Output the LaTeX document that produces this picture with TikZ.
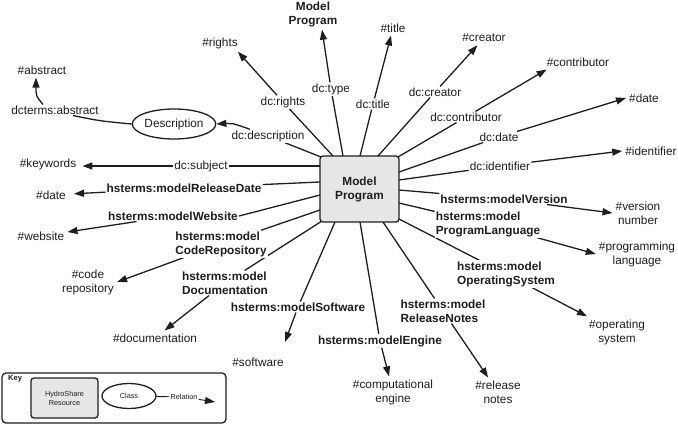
\documentclass[tikz,border=0pt]{standalone}
\usepackage{fontspec}
\setmainfont{Liberation Sans}
\usetikzlibrary{arrows.meta,shapes.geometric,backgrounds}
\definecolor{boxgray}{HTML}{E6E6E6}
\definecolor{ink}{HTML}{1E1E1E}
\newcommand\myrf{\fontsize{11.8}{14}\selectfont}
\newcommand\mybf{\fontsize{11.8}{14}\selectfont\bfseries}
\newcommand\mysf{\fontsize{7.3}{9}\selectfont}
\begin{document}
\begin{tikzpicture}[x=1pt,y=-1pt,
  every node/.style={text=ink},
  rel/.style={draw=ink, line width=1.3pt, -{Triangle[length=10pt,width=7pt]}},
  plain/.style={draw=ink, line width=1.3pt},
  lab/.style={fill=white, inner sep=1pt, font=\myrf},
  blab/.style={fill=white, inner sep=1pt, font=\mybf, align=left},
  tgt/.style={inner sep=3pt, font=\myrf, align=center},
]
\useasboundingbox (0,0) rectangle (678,426);

% central resource
\node[draw=ink, fill=boxgray, rounded corners=3pt, line width=1.3pt, minimum width=79pt,
      minimum height=66pt, inner sep=0pt, font=\mybf, align=center] (box) at (359.5,189) {Model\\Program};

% targets
\node[tgt, font=\mybf] (tType) at (313,14) {Model\\Program};
\node[tgt] (tRights) at (220,43) {\#rights};
\node[tgt] (tTitle) at (393,28) {\#title};
\node[tgt] (tCreator) at (484,38) {\#creator};
\node[tgt] (tContrib) at (578,62) {\#contributor};
\node[tgt] (tDateR) at (644,98) {\#date};
\node[tgt] (tIdent) at (651,151) {\#identifier};
\node[tgt] (tVersion) at (638,213) {\#version\\number};
\node[tgt] (tProgLang) at (637,254) {\#programming\\language};
\node[tgt] (tOS) at (617,332) {\#operating\\system};
\node[tgt] (tRelNotes) at (498,392) {\#release\\notes};
\node[tgt] (tEngine) at (393,392) {\#computational\\engine};
\node[tgt] (tSoftware) at (258,362) {\#software};
\node[tgt] (tDoc) at (155,338) {\#documentation};
\node[tgt] (tCode) at (88,282) {\#code\\repository};
\node[tgt] (tWebsite) at (41,236) {\#website};
\node[tgt, inner xsep=8pt] (tDateL) at (51,195) {\#date};
\node[tgt, inner xsep=6pt] (tKeywords) at (48,164) {\#keywords};
\node[tgt] (tAbstract) at (42,70) {\#abstract};
\node[draw=ink, ellipse, line width=1.3pt, minimum width=79pt, minimum height=30pt,
      inner sep=0pt, font=\myrf] (desc) at (174,124) {Description};

% relation labels
\node[lab] (lType) at (331,89) {dc:type};
\node[lab] (lRights) at (283,102) {dc:rights};
\node[lab] (lTitle) at (373,104) {dc:title};
\node[lab] (lCreator) at (435,92) {dc:creator};
\node[lab] (lContrib) at (466,117) {dc:contributor};
\node[lab] (lDate) at (499,137) {dc:date};
\node[lab] (lIdent) at (500,166) {dc:identifier};
\node[blab] (lVersion) at (504,199) {hsterms:modelVersion};
\node[blab] (lProgLang) at (488,224) {hsterms:model\\ProgramLanguage};
\node[blab] (lOS) at (506,274) {hsterms:model\\OperatingSystem};
\node[blab] (lRelNotes) at (443,311) {hsterms:model\\ReleaseNotes};
\node[blab] (lEngine) at (380,341) {hsterms:modelEngine};
\node[blab] (lSoftware) at (298,307) {hsterms:modelSoftware};
\node[blab] (lDoc) at (225,283) {hsterms:model\\Documentation};
\node[blab] (lCode) at (221,244) {hsterms:model\\CodeRepository};
\node[blab] (lWebsite) at (173,216) {hsterms:modelWebsite};
\node[blab] (lRelDate) at (184,188) {hsterms:modelReleaseDate};
\node[lab] (lSubject) at (201,166) {dc:subject};
\node[lab] (lDesc) at (268,136) {dc:description};
\node[lab] (lAbstract) at (55,110) {dcterms:abstract};

% start points on the resource box
\coordinate (sType) at (343,156);
\coordinate (sRights) at (333,156);
\coordinate (sTitle) at (360,156);
\coordinate (sCreator) at (378,156);
\coordinate (sContrib) at (398,157);
\coordinate (sDesc) at (321,157);
\coordinate (sSubject) at (320,166);
\coordinate (sRelDate) at (320,182);
\coordinate (sWebsite) at (320,195);
\coordinate (sCode) at (320,210);
\coordinate (sDoc) at (322,221);
\coordinate (sSoftware) at (335,222);
\coordinate (sEngine) at (360,222);
\coordinate (sRelNotes) at (383,222);
\coordinate (sOS) at (399,219);
\coordinate (sProgLang) at (399,203);
\coordinate (sVersion) at (399,190);
\coordinate (sIdent) at (399,180);
\coordinate (sDate) at (399,172);
\coordinate (softTip) at (285,342);

% key
\node[draw=ink, line width=1.3pt, rounded corners=4pt, minimum width=224pt, minimum height=50pt] (key) at (114,398) {};
\node[font=\fontsize{7.5}{9}\selectfont\bfseries, anchor=north west, inner sep=0pt] (keyT) at (8,375) {Key};
\node[draw=ink, fill=boxgray, rounded corners=3pt, line width=1.3pt, minimum width=67pt, minimum height=40pt,
      font=\mysf, align=center] (kRes) at (64.5,398) {HydroShare\\Resource};
\node[draw=ink, ellipse, line width=1.3pt, minimum width=54pt, minimum height=25pt, inner sep=0pt,
      font=\mysf] (kClass) at (129,396) {Class};
\node[lab, font=\mysf] (kRel) at (184,397) {Relation};
\coordinate (kTip) at (215,402);

\begin{pgfonlayer}{background}
\draw[rel] (sType) -- (lType) -- ([xshift=9pt]tType.south);
\draw[rel] (sRights) -- (lRights) -- ([xshift=-3pt]tRights.south east);
\draw[rel] (sTitle) -- (lTitle) -- (tTitle);
\draw[rel] (sCreator) -- (lCreator) -- (tCreator);
\draw[rel] (sContrib) -- (lContrib) -- ([xshift=3pt]tContrib.south west);
\draw[rel] (sDate) -- (lDate) -- (tDateR.west);
\draw[rel] (sIdent) -- (lIdent) -- (tIdent.west);
\draw[rel] (sVersion) -- (lVersion) -- (tVersion.west);
\draw[rel] (sProgLang) -- (lProgLang) -- (tProgLang.west);
\draw[rel] (sOS) -- (lOS) -- (tOS);
\draw[rel] (sRelNotes) -- (lRelNotes) -- (tRelNotes);
\draw[rel] (sEngine) -- (lEngine) -- (tEngine);
\draw[rel] (sSoftware) -- (lSoftware) -- (softTip);
\draw[rel] (sDoc) -- (lDoc) -- (tDoc);
\draw[rel] (sCode) -- (lCode) -- (tCode.east);
\draw[plain] (sWebsite) -- (lWebsite.east);
\draw[rel] (lWebsite) -- (tWebsite);
\draw[rel] (sRelDate) -- (lRelDate) -- (tDateL);
\draw[rel] (sSubject) -- (lSubject) -- (lSubject -| tKeywords.east);
\draw[plain] (sDesc) -- (lDesc);
\draw[rel] ([xshift=-18pt]lDesc.north) .. controls (232,123) .. (desc.east);
\draw[plain] (desc.west) .. controls (100,121) .. ([xshift=18pt]lAbstract.south);
\draw[rel] ([xshift=-12pt]lAbstract.north) .. controls (36,96) .. ([xshift=-6pt]tAbstract.south);
\draw[plain, line width=0.9pt] (kClass) -- (kRel);
\draw[rel, line width=0.9pt] (kRel) -- (kTip);
\end{pgfonlayer}
\end{tikzpicture}
\end{document}
